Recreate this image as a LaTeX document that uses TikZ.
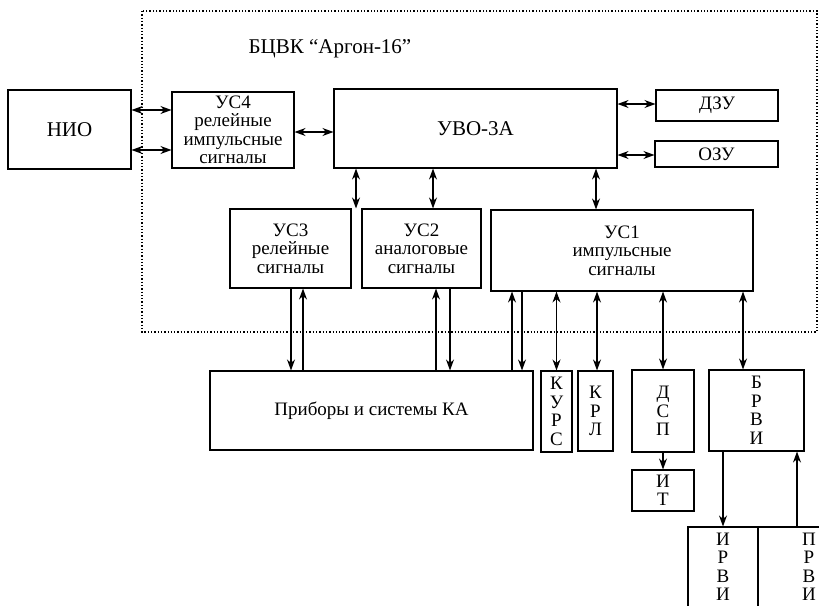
\documentclass[tikz,border=0pt]{standalone}
\usepackage{fontspec}
\setmainfont{Liberation Serif}
\usetikzlibrary{arrows.meta}
\tikzset{
  blk/.style={draw, line width=1.1pt, align=center, inner sep=0pt, font=\fontsize{19}{18.5}\selectfont},
  big/.style={font=\fontsize{21}{22}\selectfont},
  uni/.style={-{Stealth[length=11pt,width=8pt]}, line width=1.1pt},
  dbl/.style={{Stealth[length=11pt,width=8pt]}-{Stealth[length=11pt,width=8pt]}, line width=1.1pt},
  frame/.style={dotted, line width=1.3pt}
}

\begin{document}
\begin{tikzpicture}[x=1pt,y=-1pt]
  \useasboundingbox (0,0) rectangle (819,605);
  \clip (0,0) rectangle (819,605);

  % BCVK frame
  \draw[frame] (142,11) rectangle (817,332);
  \node[font=\fontsize{21}{22}\selectfont] (bcvk) at (330,49) {БЦВК “Аргон-16”};

  % upper row
  \node[blk, big, minimum width=123pt, minimum height=79pt] (nio) at (69.5,129.5) {НИО};
  \node[blk, minimum width=122pt, minimum height=76pt] (us4) at (233,130) {УС4\\релейные\\импульсные\\сигналы};
  \node[blk, big, minimum width=283pt, minimum height=79pt] (uvo) at (475.5,128.5) {УВО-3А};
  \node[blk, minimum width=122pt, minimum height=31pt] (dzu) at (717,105.5) {ДЗУ};
  \node[blk, minimum width=123pt, minimum height=26pt] (ozu) at (716.5,154) {ОЗУ};

  % signal units
  \node[blk, minimum width=121pt, minimum height=79pt] (us3) at (290.5,248.5) {УС3\\релейные\\сигналы};
  \node[blk, minimum width=119pt, minimum height=79pt] (us2) at (421.5,248.5) {УС2\\аналоговые\\сигналы};
  \node[blk, minimum width=262pt, minimum height=81pt] (us1) at (622,250.5) {УС1\\импульсные\\сигналы};

  % lower row
  \node[blk, minimum width=323pt, minimum height=79pt] (pribor) at (371.5,410.5) {Приборы и системы КА};
  \node[blk, minimum width=31pt, minimum height=81pt] (kurs) at (556.5,411.5) {К\\У\\Р\\С};
  \node[blk, minimum width=35pt, minimum height=80pt] (krl) at (595.5,411) {К\\Р\\Л};
  \node[blk, minimum width=62pt, minimum height=82pt] (dsp) at (663,411) {Д\\С\\П};
  \node[blk, minimum width=62pt, minimum height=41pt] (it) at (663,490.5) {И\\Т};
  \node[blk, minimum width=95pt, minimum height=81pt] (brvi) at (756.5,410.5) {Б\\Р\\В\\И};
  \node[blk, minimum width=70pt, minimum height=80pt] (irvi) at (723,567) {И\\Р\\В\\И};
  \node[blk, minimum width=102pt, minimum height=80pt] (prvi) at (809,567) {П\\Р\\В\\И};

  % links
  \draw[dbl] (nio.east |- 0,110) -- (us4.west |- 0,110);
  \draw[dbl] (nio.east |- 0,150) -- (us4.west |- 0,150);
  \draw[dbl] (us4.east |- 0,132) -- (uvo.west |- 0,132);
  \draw[dbl] (uvo.east |- 0,104) -- (dzu.west |- 0,104);
  \draw[dbl] (uvo.east |- 0,155) -- (ozu.west |- 0,155);
  \draw[dbl] (uvo.south -| 356,0) -- (us3.north -| 356,0);
  \draw[dbl] (uvo.south -| 433,0) -- (us2.north -| 433,0);
  \draw[dbl] (uvo.south -| 596,0) -- (us1.north -| 596,0);

  \draw[uni] (us3.south -| 291,0) -- (pribor.north -| 291,0);
  \draw[uni] (pribor.north -| 303,0) -- (us3.south -| 303,0);
  \draw[uni] (pribor.north -| 436,0) -- (us2.south -| 436,0);
  \draw[uni] (us2.south -| 450,0) -- (pribor.north -| 450,0);
  \draw[uni] (pribor.north -| 512,0) -- (us1.south -| 512,0);
  \draw[uni] (us1.south -| 522,0) -- (pribor.north -| 522,0);

  \draw[dbl] (us1.south -| kurs.north) -- (kurs.north);
  \draw[dbl] (us1.south -| 597,0) -- (krl.north -| 597,0);
  \draw[dbl] (us1.south -| dsp.north) -- (dsp.north);
  \draw[dbl] (us1.south -| 743,0) -- (brvi.north -| 743,0);
  \draw[uni] (dsp.south) -- (it.north);
  \draw[uni] (brvi.south -| 723,0) -- (irvi.north -| 723,0);
  \draw[uni] (prvi.north -| 797,0) -- (brvi.south -| 797,0);
\end{tikzpicture}
\end{document}
